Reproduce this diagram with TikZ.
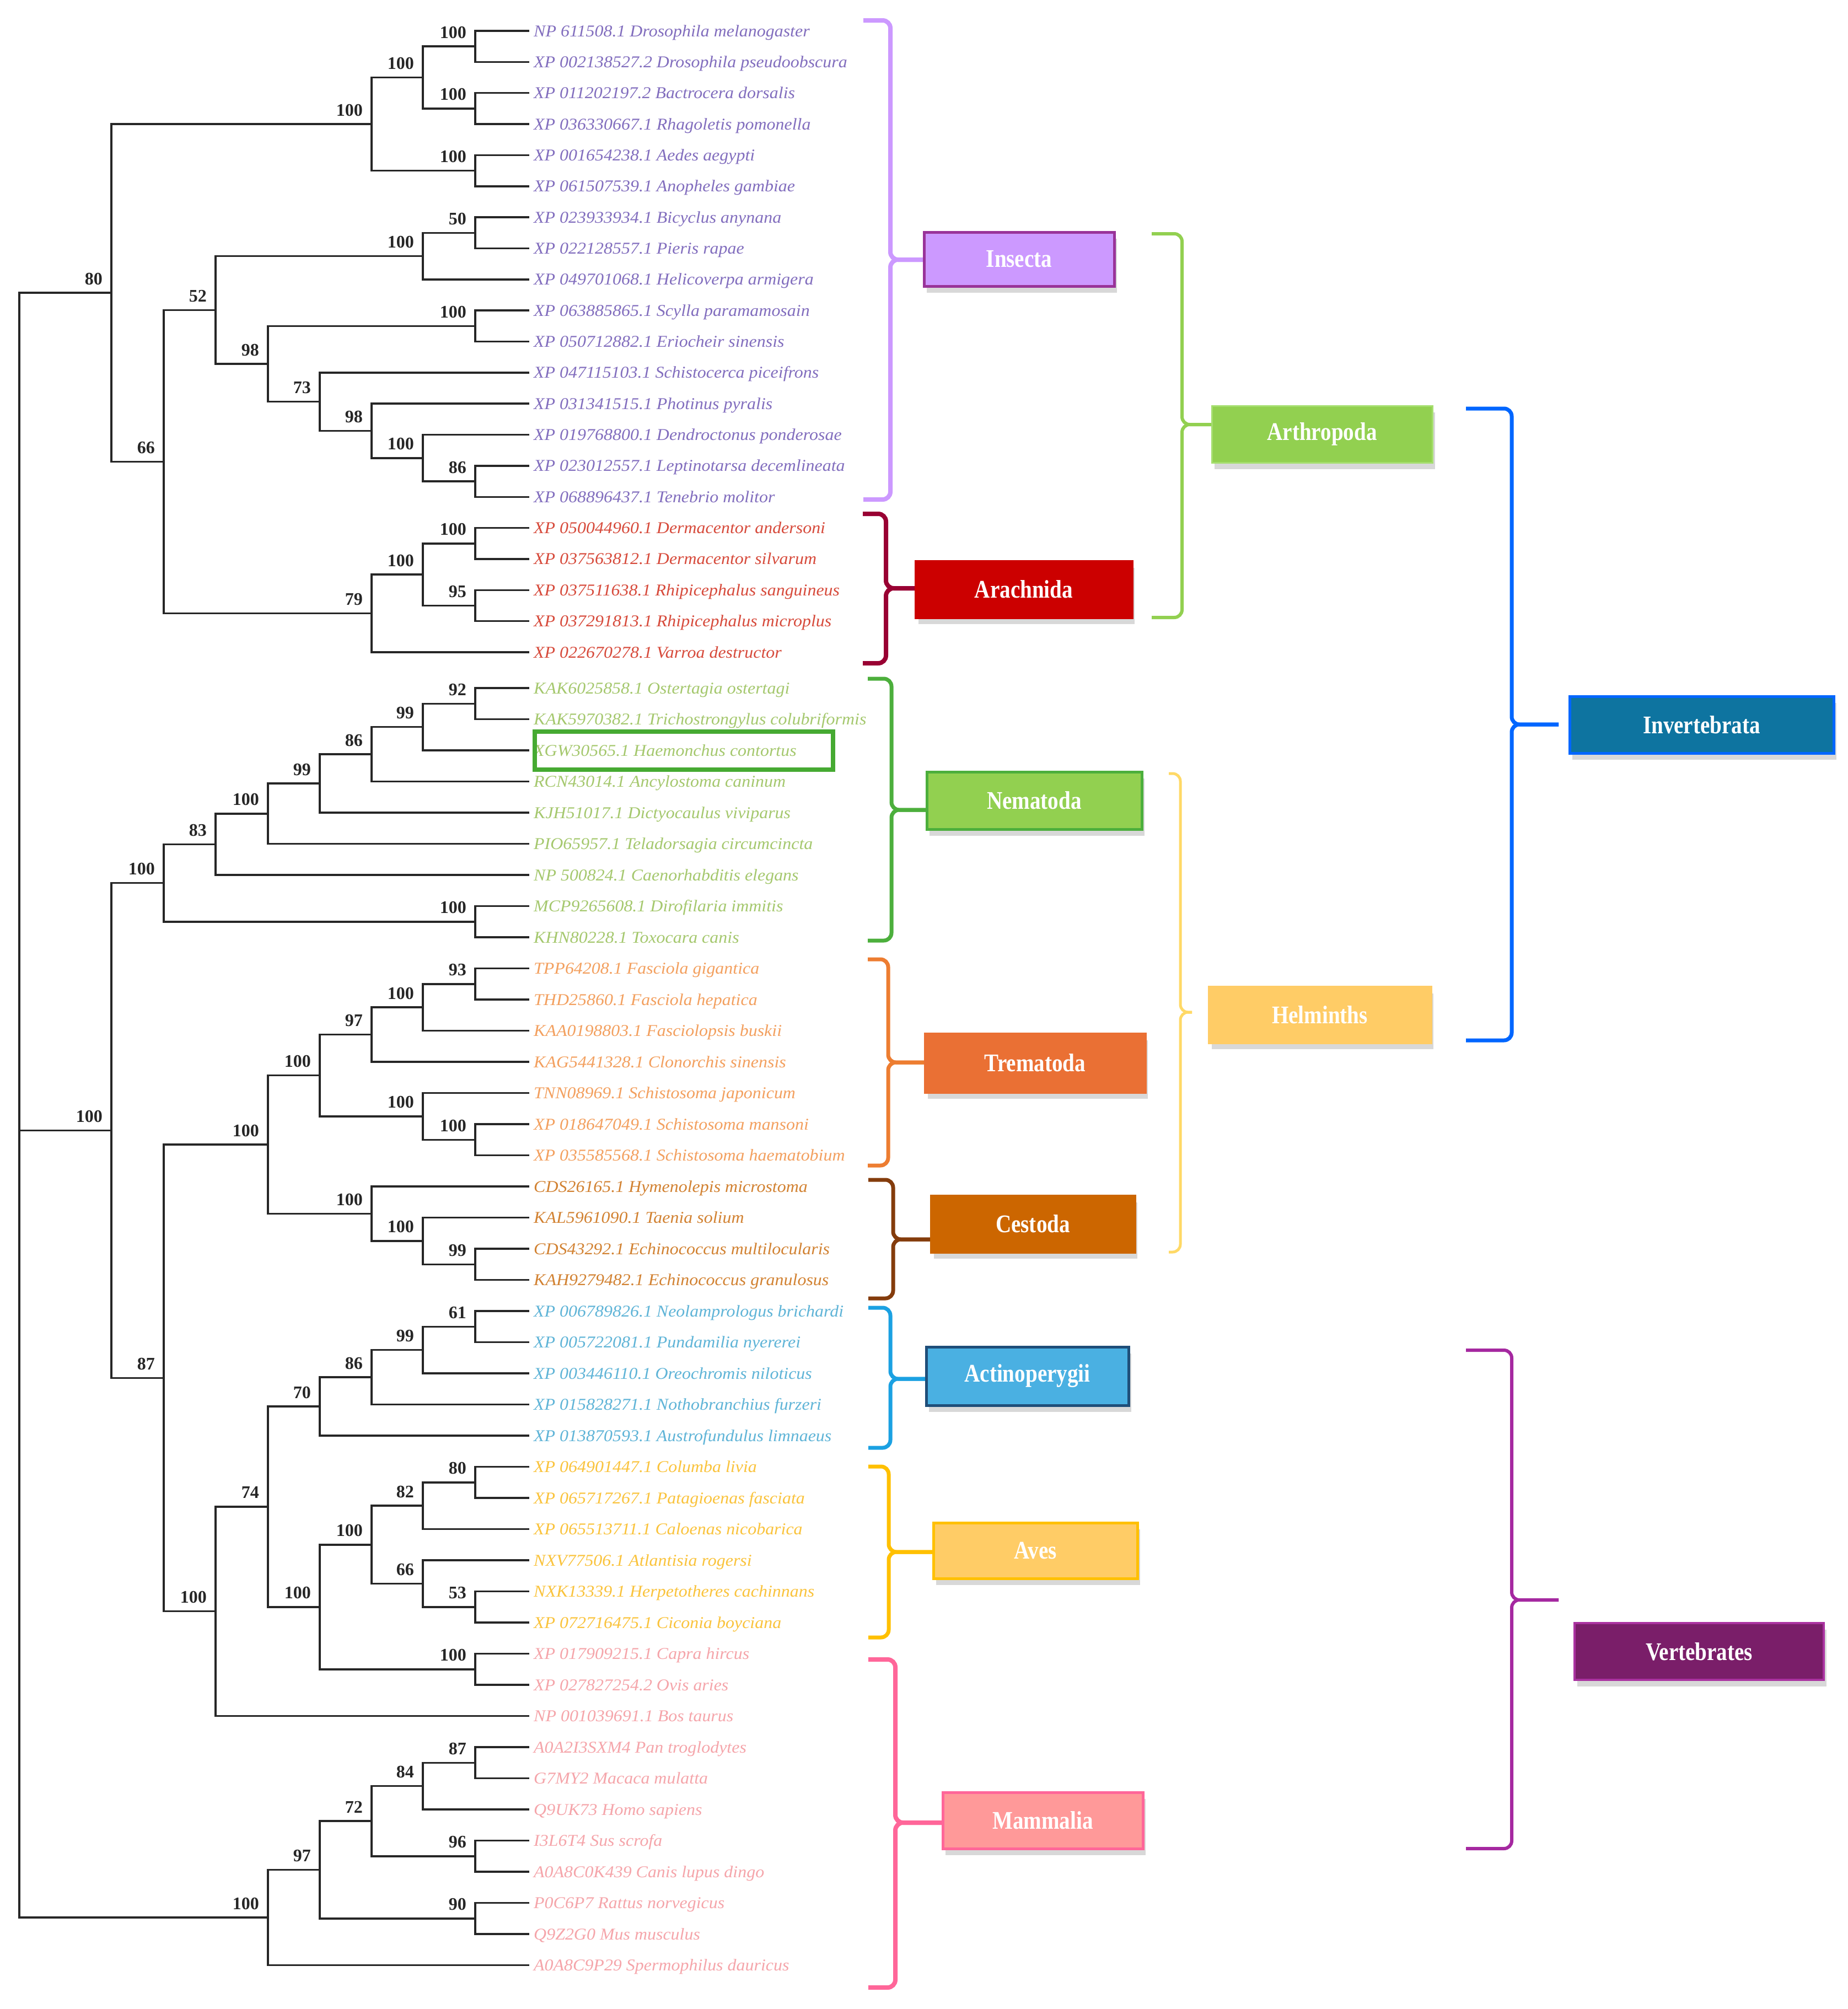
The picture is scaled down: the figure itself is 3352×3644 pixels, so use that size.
\documentclass[tikz,border=0pt]{standalone}
\usepackage{fontspec}
\setmainfont{Liberation Serif}
\usepackage{graphicx}
\usetikzlibrary{shadows,calc}

\definecolor{txins}{RGB}{130,110,190}
\definecolor{txara}{RGB}{215,75,60}
\definecolor{txnem}{RGB}{165,200,110}
\definecolor{txtre}{RGB}{243,160,95}
\definecolor{txces}{RGB}{210,130,50}
\definecolor{txact}{RGB}{95,180,215}
\definecolor{txave}{RGB}{250,195,60}
\definecolor{txmam}{RGB}{245,165,170}
\definecolor{hcgreen}{RGB}{70,170,50}
% bracket colours
\definecolor{brins}{RGB}{204,153,255}
\definecolor{brara}{RGB}{153,0,51}
\definecolor{brnem}{RGB}{76,175,60}
\definecolor{brtre}{RGB}{237,125,49}
\definecolor{brces}{RGB}{132,60,12}
\definecolor{bract}{RGB}{27,161,226}
\definecolor{brave}{RGB}{255,192,0}
\definecolor{brmam}{RGB}{255,102,153}
\definecolor{brart}{RGB}{146,208,80}
\definecolor{brhel}{RGB}{255,217,102}
\definecolor{brinv}{RGB}{0,102,255}
\definecolor{brver}{RGB}{165,40,160}
% box colours
\definecolor{fins}{RGB}{204,153,255}
\definecolor{dins}{RGB}{153,51,153}
\definecolor{fara}{RGB}{204,0,0}
\definecolor{fart}{RGB}{146,208,80}
\definecolor{dart}{RGB}{165,222,110}
\definecolor{fnem}{RGB}{146,208,80}
\definecolor{dnem}{RGB}{76,175,60}
\definecolor{fhel}{RGB}{255,204,102}
\definecolor{ftre}{RGB}{234,112,52}
\definecolor{fces}{RGB}{204,102,0}
\definecolor{fact}{RGB}{74,176,226}
\definecolor{dact}{RGB}{31,78,121}
\definecolor{fave}{RGB}{255,204,102}
\definecolor{dave}{RGB}{255,192,0}
\definecolor{fmam}{RGB}{255,153,153}
\definecolor{dmam}{RGB}{255,102,153}
\definecolor{finv}{RGB}{14,116,160}
\definecolor{dinv}{RGB}{0,102,255}
\definecolor{fver}{RGB}{122,30,105}
\definecolor{dver}{RGB}{170,50,160}

\newcommand\leaffont{\fontsize{30}{36}\selectfont\itshape}
\newcommand\bootfont{\fontsize{32}{36}\selectfont\bfseries}
\newcommand\boxfont{\fontsize{46}{50}\selectfont\bfseries}
\newcommand\boxtext[1]{\scalebox{0.85}[1]{#1}}

\tikzset{
  branch/.style={line width=3.5pt, draw=black!85},
  boot/.style={font=\bootfont, anchor=base east, inner sep=0pt, text=black!85},
  leaf/.style={font=\leaffont, anchor=base west, inner sep=0pt},
  grp/.style={rectangle, text=white, font=\boxfont, inner sep=0pt, line width=5pt,
    drop shadow={shadow xshift=5pt, shadow yshift=-12pt, opacity=0.3}},
  brk/.style={line width=7pt, rounded corners=14pt},
}

\newcommand\clade[5]{%
  \path let \p1=(#3), \p2=(#4) in coordinate (#1) at (#2pt,{(\y1+\y2)/2});
  \draw[branch] (#3) -| (#1) |- (#4);
  \node[boot] (#1lab) at ([xshift=-16pt,yshift=15pt]#1) {#5};
}
\newcommand\grpbrace[8]{% color, lw, xl, xv, top, bot, tipy, tipx
  \draw[brk, color=#1, line width=#2pt] (#3,#5) -- (#4,#5) -- (#4,#7) -- (#8,#7);
  \draw[brk, color=#1, line width=#2pt] (#3,#6) -- (#4,#6) -- (#4,#7) -- (#8,#7);
}

\begin{document}
\begin{tikzpicture}[x=1pt,y=-1pt]
\fill[white] (0,0) rectangle (3352,3644);
\useasboundingbox (0,0) rectangle (3352,3644);

% leaf tips
\foreach \i in {1,...,21}{\coordinate (L\i) at (960,{56+(\i-1)*56.35});}
\foreach \i in {22,...,63}{\coordinate (L\i) at (960,{1248+(\i-22)*56.5});}

% leaf labels
\foreach \leafi/\leafc/\leaft in {
1/ins/NP 611508.1 Drosophila melanogaster,
2/ins/XP 002138527.2 Drosophila pseudoobscura,
3/ins/XP 011202197.2 Bactrocera dorsalis,
4/ins/XP 036330667.1 Rhagoletis pomonella,
5/ins/XP 001654238.1 Aedes aegypti,
6/ins/XP 061507539.1 Anopheles gambiae,
7/ins/XP 023933934.1 Bicyclus anynana,
8/ins/XP 022128557.1 Pieris rapae,
9/ins/XP 049701068.1 Helicoverpa armigera,
10/ins/XP 063885865.1 Scylla paramamosain,
11/ins/XP 050712882.1 Eriocheir sinensis,
12/ins/XP 047115103.1 Schistocerca piceifrons,
13/ins/XP 031341515.1 Photinus pyralis,
14/ins/XP 019768800.1 Dendroctonus ponderosae,
15/ins/XP 023012557.1 Leptinotarsa decemlineata,
16/ins/XP 068896437.1 Tenebrio molitor,
17/ara/XP 050044960.1 Dermacentor andersoni,
18/ara/XP 037563812.1 Dermacentor silvarum,
19/ara/XP 037511638.1 Rhipicephalus sanguineus,
20/ara/XP 037291813.1 Rhipicephalus microplus,
21/ara/XP 022670278.1 Varroa destructor,
22/nem/KAK6025858.1 Ostertagia ostertagi,
23/nem/KAK5970382.1 Trichostrongylus colubriformis,
24/nem/XGW30565.1 Haemonchus contortus,
25/nem/RCN43014.1 Ancylostoma caninum,
26/nem/KJH51017.1 Dictyocaulus viviparus,
27/nem/PIO65957.1 Teladorsagia circumcincta,
28/nem/NP 500824.1 Caenorhabditis elegans,
29/nem/MCP9265608.1 Dirofilaria immitis,
30/nem/KHN80228.1 Toxocara canis,
31/tre/TPP64208.1 Fasciola gigantica,
32/tre/THD25860.1 Fasciola hepatica,
33/tre/KAA0198803.1 Fasciolopsis buskii,
34/tre/KAG5441328.1 Clonorchis sinensis,
35/tre/TNN08969.1 Schistosoma japonicum,
36/tre/XP 018647049.1 Schistosoma mansoni,
37/tre/XP 035585568.1 Schistosoma haematobium,
38/ces/CDS26165.1 Hymenolepis microstoma,
39/ces/KAL5961090.1 Taenia solium,
40/ces/CDS43292.1 Echinococcus multilocularis,
41/ces/KAH9279482.1 Echinococcus granulosus,
42/act/XP 006789826.1 Neolamprologus brichardi,
43/act/XP 005722081.1 Pundamilia nyererei,
44/act/XP 003446110.1 Oreochromis niloticus,
45/act/XP 015828271.1 Nothobranchius furzeri,
46/act/XP 013870593.1 Austrofundulus limnaeus,
47/ave/XP 064901447.1 Columba livia,
48/ave/XP 065717267.1 Patagioenas fasciata,
49/ave/XP 065513711.1 Caloenas nicobarica,
50/ave/NXV77506.1 Atlantisia rogersi,
51/ave/NXK13339.1 Herpetotheres cachinnans,
52/ave/XP 072716475.1 Ciconia boyciana,
53/mam/XP 017909215.1 Capra hircus,
54/mam/XP 027827254.2 Ovis aries,
55/mam/NP 001039691.1 Bos taurus,
56/mam/A0A2I3SXM4 Pan troglodytes,
57/mam/G7MY2 Macaca mulatta,
58/mam/Q9UK73 Homo sapiens,
59/mam/I3L6T4 Sus scrofa,
60/mam/A0A8C0K439 Canis lupus dingo,
61/mam/P0C6P7 Rattus norvegicus,
62/mam/Q9Z2G0 Mus musculus,
63/mam/A0A8C9P29 Spermophilus dauricus}{
  \node[leaf, text=tx\leafc] (T\leafi) at ([xshift=8pt,yshift=-10pt]L\leafi) {\scalebox{1.065}[1]{\leaft}};
}

% Haemonchus highlight
\draw[hcgreen, line width=8pt] ($(L24)+(10,-34)$) rectangle ($(L24)+(551,35)$);

% ---- tree: Arthropoda
\clade{a1}{862}{L1}{L2}{100}
\clade{a2}{862}{L3}{L4}{100}
\clade{a3}{767}{a1}{a2}{100}
\clade{a4}{862}{L5}{L6}{100}
\clade{a5}{674}{a3}{a4}{100}
\clade{a6}{862}{L7}{L8}{50}
\clade{a7}{767}{a6}{L9}{100}
\clade{a8}{862}{L10}{L11}{100}
\clade{a9}{862}{L15}{L16}{86}
\clade{a10}{767}{L14}{a9}{100}
\clade{a11}{674}{L13}{a10}{98}
\clade{a12}{580}{L12}{a11}{73}
\clade{a13}{486}{a8}{a12}{98}
\clade{a14}{391}{a7}{a13}{52}
\clade{a15}{862}{L17}{L18}{100}
\clade{a16}{862}{L19}{L20}{95}
\clade{a17}{767}{a15}{a16}{100}
\clade{a18}{674}{a17}{L21}{79}
\clade{a19}{297}{a14}{a18}{66}
\clade{a20}{202}{a5}{a19}{80}
% ---- Nematoda
\clade{b1}{862}{L22}{L23}{92}
\clade{b2}{767}{b1}{L24}{99}
\clade{b3}{674}{b2}{L25}{86}
\clade{b4}{580}{b3}{L26}{99}
\clade{b5}{486}{b4}{L27}{100}
\clade{b6}{391}{b5}{L28}{83}
\clade{b7}{862}{L29}{L30}{100}
\clade{b8}{297}{b6}{b7}{100}
% ---- Platyhelminthes
\clade{c1}{862}{L31}{L32}{93}
\clade{c2}{767}{c1}{L33}{100}
\clade{c3}{674}{c2}{L34}{97}
\clade{c4}{862}{L36}{L37}{100}
\clade{c5}{767}{L35}{c4}{100}
\clade{c6}{580}{c3}{c5}{100}
\clade{c7}{862}{L40}{L41}{99}
\clade{c8}{767}{L39}{c7}{100}
\clade{c9}{674}{L38}{c8}{100}
\clade{c10}{486}{c6}{c9}{100}
% ---- Vertebrates (fish, birds, ruminants)
\clade{d1}{862}{L42}{L43}{61}
\clade{d2}{767}{d1}{L44}{99}
\clade{d3}{674}{d2}{L45}{86}
\clade{d4}{580}{d3}{L46}{70}
\clade{d5}{862}{L47}{L48}{80}
\clade{d6}{767}{d5}{L49}{82}
\clade{d7}{862}{L51}{L52}{53}
\clade{d8}{767}{L50}{d7}{66}
\clade{d9}{674}{d6}{d8}{100}
\clade{d10}{862}{L53}{L54}{100}
\clade{d11}{580}{d9}{d10}{100}
\clade{d12}{486}{d4}{d11}{74}
\clade{d13}{391}{d12}{L55}{100}
\clade{d14}{297}{c10}{d13}{87}
\clade{d15}{202}{b8}{d14}{100}
% ---- Mammals
\clade{e1}{862}{L56}{L57}{87}
\clade{e2}{767}{e1}{L58}{84}
\clade{e3}{862}{L59}{L60}{96}
\clade{e4}{674}{e2}{e3}{72}
\clade{e5}{862}{L61}{L62}{90}
\clade{e6}{580}{e4}{e5}{97}
\clade{e7}{486}{e6}{L63}{100}
% ---- root
\path let \p1=(a20), \p2=(e7) in coordinate (rt) at (35pt,{(\y1+\y2)/2});
\draw[branch] (a20) -| (rt) |- (e7);
\draw[branch] (d15) -- (d15 -| rt);

% ---- brackets (first level)
\grpbrace{brins}{8}{1566}{1615}{37}{906}{471}{1680}
\grpbrace{brara}{8}{1565}{1607}{932}{1203}{1067}{1670}
\grpbrace{brnem}{7}{1574}{1617}{1231}{1706}{1469}{1685}
\grpbrace{brtre}{7}{1574}{1611}{1740}{2114}{1927}{1685}
\grpbrace{brces}{7}{1575}{1620}{2140}{2355}{2248}{1695}
\grpbrace{bract}{7}{1575}{1615}{2372}{2626}{2501}{1685}
\grpbrace{brave}{7}{1575}{1612}{2660}{2970}{2815}{1695}
\grpbrace{brmam}{8}{1575}{1624}{3010}{3605}{3306}{1712}
% ---- brackets (higher levels)
\grpbrace{brart}{6}{2089}{2144}{424}{1120}{770}{2200}
\grpbrace{brhel}{5}{2120}{2141}{1403}{2271}{1836}{2162}
\grpbrace{brinv}{7}{2659}{2742}{741}{1887}{1314}{2827}
\grpbrace{brver}{6}{2659}{2742}{2449}{3353}{2902}{2827}

% ---- group boxes
\node[grp, fill=fins, draw=dins, minimum width=345pt, minimum height=98pt] (ins) at (1848.5,470) {\boxtext{Insecta}};
\node[grp, fill=fara, draw=fara, minimum width=392pt, minimum height=102pt] (ara) at (1857,1069) {\boxtext{Arachnida}};
\node[grp, fill=fart, draw=dart, line width=3pt, minimum width=400pt, minimum height=103pt] (art) at (2398,787.5) {\boxtext{Arthropoda}};
\node[grp, fill=fnem, draw=dnem, minimum width=390pt, minimum height=104pt] (nem) at (1876,1452) {\boxtext{Nematoda}};
\node[grp, fill=fhel, draw=fhel, minimum width=402pt, minimum height=101pt] (hel) at (2394,1840.5) {\boxtext{Helminths}};
\node[grp, fill=ftre, draw=ftre, minimum width=399pt, minimum height=106pt] (tre) at (1877.5,1928) {\boxtext{Trematoda}};
\node[grp, fill=fces, draw=fces, minimum width=369pt, minimum height=102pt] (ces) at (1873.5,2220) {\boxtext{Cestoda}};
\node[grp, fill=fact, draw=dact, minimum width=367pt, minimum height=106pt] (act) at (1863.5,2496) {\boxtext{Actinoperygii}};
\node[grp, fill=fave, draw=dave, minimum width=370pt, minimum height=101pt] (ave) at (1878,2812.5) {\boxtext{Aves}};
\node[grp, fill=fmam, draw=dmam, minimum width=363pt, minimum height=102pt] (mam) at (1891.5,3302) {\boxtext{Mammalia}};
\node[grp, fill=finv, draw=dinv, minimum width=479pt, minimum height=103pt] (inv) at (3086.5,1314.5) {\boxtext{Invertebrata}};
\node[grp, fill=fver, draw=dver, line width=4pt, minimum width=452pt, minimum height=103pt] (ver) at (3082,2995.5) {\boxtext{Vertebrates}};
\end{tikzpicture}
\end{document}
